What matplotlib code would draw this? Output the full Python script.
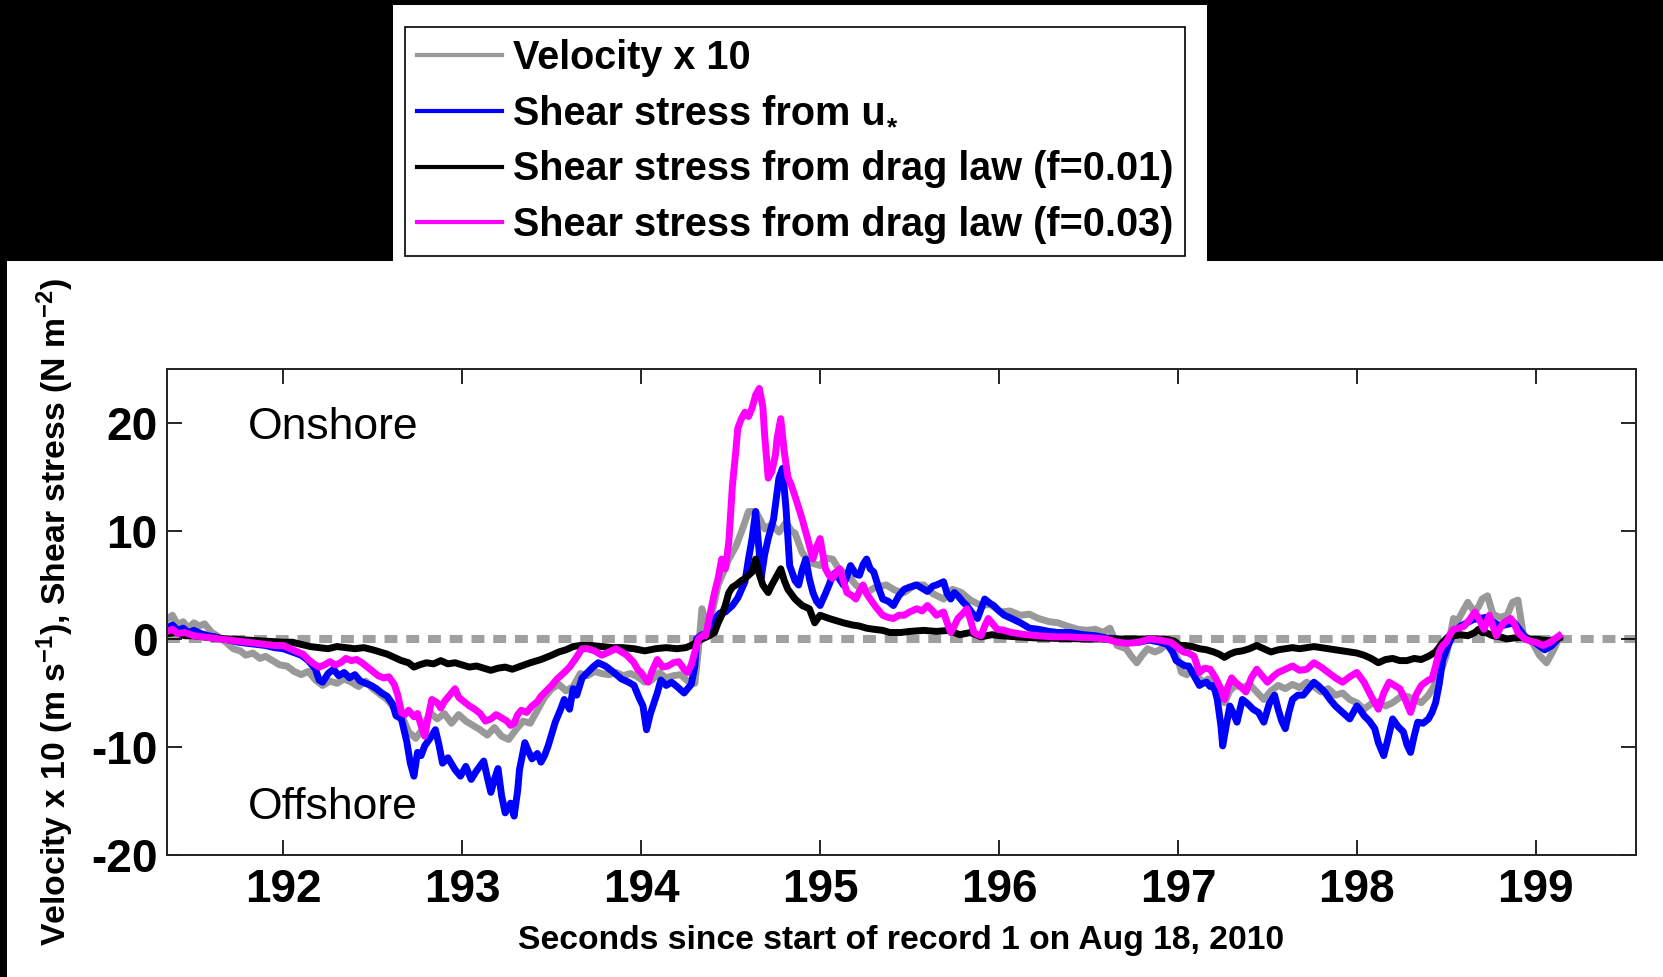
import matplotlib
matplotlib.use("Agg")
import matplotlib.pyplot as plt
from matplotlib.patches import Rectangle
from matplotlib.text import Annotation

plt.rcParams['font.family'] = ['Liberation Sans', 'DejaVu Sans']
plt.rcParams['mathtext.default'] = 'regular'
plt.rcParams['axes.unicode_minus'] = False

# ---- data -----------------------------------------------------------------
vel_t = [191.35, 191.38, 191.41, 191.44, 191.47, 191.50, 191.53, 191.56, 191.60, 191.64,
         191.68, 191.72, 191.76, 191.79, 191.83, 191.87, 191.90, 191.94, 191.98, 192.02,
         192.06, 192.10, 192.14, 192.18, 192.22, 192.26, 192.30, 192.34, 192.38, 192.42,
         192.46, 192.50, 192.54, 192.58, 192.62, 192.66, 192.70, 192.74, 192.78, 192.82,
         192.86, 192.90, 192.94, 192.98, 193.02, 193.06, 193.10, 193.14, 193.18, 193.22,
         193.26, 193.30, 193.34, 193.38, 193.42, 193.46, 193.50, 193.54, 193.58, 193.62,
         193.66, 193.70, 193.74, 193.78, 193.82, 193.86, 193.90, 193.94, 193.98, 194.02,
         194.06, 194.10, 194.14, 194.18, 194.22, 194.26, 194.30, 194.32, 194.34, 194.36,
         194.38, 194.41, 194.43, 194.46, 194.49, 194.53, 194.56, 194.60, 194.64, 194.67,
         194.69, 194.73, 194.77, 194.81, 194.84, 194.86, 194.90, 194.94, 195.00, 195.03,
         195.07, 195.10, 195.13, 195.17, 195.20, 195.26, 195.31, 195.37, 195.42, 195.47,
         195.53, 195.58, 195.63, 195.69, 195.74, 195.79, 195.84, 195.90, 195.95, 196.01,
         196.06, 196.12, 196.17, 196.22, 196.28, 196.33, 196.38, 196.44, 196.49, 196.54,
         196.58, 196.62, 196.66, 196.71, 196.74, 196.77, 196.80, 196.83, 196.87, 196.90,
         196.94, 196.97, 197.00, 197.02, 197.05, 197.08, 197.11, 197.14, 197.17, 197.20,
         197.23, 197.26, 197.29, 197.32, 197.36, 197.40, 197.44, 197.48, 197.52, 197.56,
         197.60, 197.64, 197.68, 197.72, 197.76, 197.80, 197.84, 197.88, 197.92, 197.96,
         198.00, 198.04, 198.08, 198.12, 198.16, 198.20, 198.24, 198.28, 198.32, 198.36,
         198.40, 198.43, 198.46, 198.48, 198.50, 198.52, 198.54, 198.56, 198.58, 198.60,
         198.62, 198.64, 198.66, 198.68, 198.70, 198.73, 198.76, 198.80, 198.84, 198.87,
         198.90, 198.93, 198.96, 198.98, 199.02, 199.06, 199.10, 199.13]
vel_v = [1.8, 2.2, 1.3, 1.6, 1.0, 1.5, 1.2, 1.4, 0.6, 0.2,
         -0.3, -0.9, -1.1, -1.5, -1.3, -1.8, -1.6, -2.0, -2.4, -2.5,
         -3.0, -3.3, -3.0, -3.8, -4.3, -3.9, -4.1, -3.7, -4.0, -4.4,
         -3.9, -4.6, -5.1, -5.6, -6.4, -7.0, -8.6, -9.2, -8.3, -6.8,
         -7.4, -6.9, -7.8, -7.0, -7.6, -8.0, -8.4, -8.9, -8.2, -9.0,
         -9.3, -8.4, -7.6, -7.8, -6.6, -5.4, -4.6, -4.2, -4.8, -4.4,
         -3.2, -3.4, -3.0, -3.2, -3.3, -3.1, -3.4, -3.2, -3.5, -4.0,
         -3.8, -3.1, -3.6, -3.4, -3.3, -3.9, -4.1, -1.0, 2.8, 1.5,
         1.2, 3.5, 5.0, 6.2, 7.4, 8.6, 9.9, 11.8, 11.8, 10.9,
         10.2, 10.6, 9.9, 10.8, 10.0, 9.8, 8.0, 7.1, 6.8, 7.5,
         7.4, 6.6, 6.2, 5.6, 5.0, 4.3, 4.8, 5.0, 4.5, 4.3,
         5.0, 5.0, 4.2, 3.7, 4.6, 4.3, 3.6, 3.1, 3.2, 2.5,
         2.6, 2.2, 2.3, 1.9, 1.6, 1.5, 1.2, 0.9, 0.8, 0.9,
         0.6, 1.0, -0.6, -0.9, -1.6, -2.2, -1.5, -0.9, -1.2, -1.0,
         -0.4, -0.8, -1.9, -3.1, -3.3, -2.9, -3.5, -4.0, -3.7, -4.6,
         -5.2, -5.9, -4.8, -4.3, -4.5, -4.2, -4.9, -5.6, -4.8, -4.3,
         -4.6, -4.2, -4.5, -4.0, -4.4, -4.9, -4.6, -5.2, -5.0, -5.6,
         -5.9, -6.5, -6.0, -5.8, -6.2, -5.9, -5.4, -5.3, -5.6, -5.9,
         -5.2, -4.4, -3.1, -2.5, -1.5, 0.2, 1.9, 1.6, 2.2, 2.8,
         3.4, 2.9, 2.5, 3.0, 3.7, 4.0, 2.3, 2.0, 2.2, 3.4,
         3.6, 0.4, 0.0, -0.3, -1.5, -2.2, -1.0, 0.1]

ustar_t = [191.35, 191.38, 191.41, 191.44, 191.47, 191.50, 191.54, 191.58, 191.62, 191.66,
           191.70, 191.75, 191.80, 191.85, 191.90, 191.95, 192.00, 192.05, 192.10, 192.14,
           192.18, 192.20, 192.22, 192.25, 192.28, 192.31, 192.34, 192.37, 192.40, 192.43,
           192.46, 192.49, 192.52, 192.55, 192.58, 192.61, 192.63, 192.66, 192.69, 192.71,
           192.73, 192.75, 192.77, 192.79, 192.82, 192.85, 192.87, 192.89, 192.92, 192.96,
           192.99, 193.02, 193.05, 193.08, 193.12, 193.14, 193.16, 193.18, 193.20, 193.22,
           193.24, 193.27, 193.29, 193.31, 193.32, 193.35, 193.37, 193.39, 193.42, 193.44,
           193.46, 193.48, 193.50, 193.52, 193.55, 193.57, 193.60, 193.62, 193.64, 193.67,
           193.70, 193.73, 193.76, 193.80, 193.84, 193.89, 193.93, 193.96, 193.99, 194.01,
           194.03, 194.05, 194.07, 194.09, 194.11, 194.14, 194.17, 194.20, 194.24, 194.28,
           194.30, 194.31, 194.34, 194.36, 194.39, 194.41, 194.44, 194.47, 194.51, 194.54,
           194.58, 194.60, 194.62, 194.64, 194.66, 194.67, 194.69, 194.71, 194.74, 194.77,
           194.79, 194.81, 194.83, 194.86, 194.88, 194.90, 194.92, 194.94, 194.96, 194.98,
           195.00, 195.03, 195.05, 195.07, 195.09, 195.11, 195.13, 195.15, 195.17, 195.20,
           195.22, 195.24, 195.26, 195.28, 195.30, 195.33, 195.35, 195.38, 195.41, 195.44,
           195.47, 195.50, 195.54, 195.57, 195.60, 195.63, 195.65, 195.69, 195.71, 195.73,
           195.75, 195.77, 195.80, 195.82, 195.85, 195.88, 195.90, 195.92, 195.95, 195.97,
           196.00, 196.03, 196.07, 196.12, 196.17, 196.22, 196.28, 196.33, 196.40, 196.47,
           196.54, 196.60, 196.66, 196.72, 196.78, 196.84, 196.90, 196.94, 196.97, 196.99,
           197.01, 197.04, 197.06, 197.09, 197.12, 197.14, 197.16, 197.18, 197.20, 197.22,
           197.24, 197.25, 197.27, 197.29, 197.31, 197.33, 197.36, 197.39, 197.42, 197.45,
           197.48, 197.51, 197.54, 197.56, 197.58, 197.60, 197.62, 197.64, 197.67, 197.70,
           197.73, 197.76, 197.79, 197.82, 197.85, 197.88, 197.92, 197.96, 198.00, 198.02,
           198.04, 198.07, 198.10, 198.12, 198.15, 198.17, 198.20, 198.23, 198.26, 198.28,
           198.30, 198.32, 198.34, 198.37, 198.40, 198.42, 198.44, 198.46, 198.48, 198.51,
           198.54, 198.58, 198.65, 198.72, 198.80, 198.88, 198.94, 199.00, 199.05, 199.09,
           199.13]
ustar_v = [1.0, 1.3, 0.8, 1.0, 0.6, 0.8, 0.5, 0.3, 0.2, 0.0,
           -0.1, -0.3, -0.4, -0.5, -0.6, -0.8, -0.9, -1.2, -1.5, -2.0,
           -2.8, -3.8, -4.0, -3.2, -2.8, -3.4, -3.1, -3.6, -3.3, -3.9,
           -4.1, -4.3, -4.6, -5.0, -5.3, -6.0, -7.1, -7.4, -9.5, -11.5,
           -12.7, -10.5, -10.8, -9.9, -9.2, -8.4, -9.8, -11.5, -11.0, -12.1,
           -12.7, -11.8, -13.0, -12.2, -11.3, -12.8, -14.2, -13.0, -12.0, -14.5,
           -16.1, -15.2, -16.4, -14.0, -12.1, -9.6, -10.4, -11.1, -10.6, -11.4,
           -10.8, -9.9, -8.8, -7.7, -6.5, -5.6, -6.5, -4.6, -5.2, -3.6,
           -3.1, -2.6, -2.2, -2.5, -3.0, -3.7, -4.0, -4.3, -5.5, -6.2,
           -8.4, -7.0, -6.0, -5.0, -3.8, -4.3, -4.0, -4.4, -5.0, -4.2,
           -2.5, 0.0, 0.4, 0.3, 1.0, 1.8, 2.4, 2.5, 3.1, 3.8,
           5.3, 7.4, 9.3, 11.8, 8.0, 5.6, 7.8, 9.3, 11.1, 14.9,
           15.8, 12.0, 6.8, 5.4, 5.0, 6.4, 7.4, 5.6, 4.3, 3.5,
           3.1, 4.2, 5.0, 5.9, 6.2, 5.5, 5.0, 5.8, 6.8, 6.0,
           5.9, 6.9, 7.4, 6.5, 6.2, 4.6, 3.7, 3.5, 3.1, 4.0,
           4.6, 4.8, 5.0, 4.7, 4.4, 4.9, 5.0, 5.3, 4.2, 3.7,
           4.3, 4.0, 3.4, 3.1, 2.4, 1.9, 2.8, 3.7, 3.3, 3.1,
           2.6, 2.2, 1.9, 1.5, 1.0, 0.9, 0.7, 0.6, 0.6, 0.4,
           0.3, 0.1, 0.0, -0.2, -0.3, -0.1, -0.3, -0.5, -1.2, -2.0,
           -2.2, -2.5, -2.5, -3.4, -4.3, -4.1, -4.0, -4.4, -4.3, -5.6,
           -8.0, -9.9, -8.0, -6.2, -6.9, -7.7, -5.6, -6.0, -6.5, -6.8,
           -7.7, -6.0, -5.2, -6.5, -7.6, -8.3, -6.8, -5.6, -5.2, -5.2,
           -4.6, -4.0, -4.4, -4.9, -5.6, -6.2, -6.8, -7.4, -6.2, -6.6,
           -7.1, -7.6, -8.3, -9.6, -10.8, -9.5, -7.4, -8.1, -8.6, -9.8,
           -10.5, -9.0, -7.7, -7.8, -7.4, -6.8, -5.9, -4.2, -1.9, -0.6,
           0.5, 1.2, 1.8, 2.0, 1.2, 1.5, 0.2, -0.4, -1.0, -0.6,
           0.1]

f001_t = [191.35, 191.40, 191.45, 191.50, 191.55, 191.60, 191.70, 191.80, 191.90, 192.00,
          192.05, 192.10, 192.15, 192.20, 192.25, 192.30, 192.35, 192.40, 192.45, 192.50,
          192.54, 192.58, 192.62, 192.66, 192.70, 192.73, 192.76, 192.80, 192.84, 192.88,
          192.92, 192.96, 193.00, 193.04, 193.08, 193.12, 193.16, 193.20, 193.24, 193.28,
          193.33, 193.38, 193.44, 193.50, 193.54, 193.58, 193.62, 193.66, 193.72, 193.78,
          193.84, 193.90, 193.96, 194.02, 194.08, 194.14, 194.20, 194.25, 194.28, 194.31,
          194.34, 194.38, 194.41, 194.43, 194.45, 194.47, 194.49, 194.51, 194.53, 194.56,
          194.58, 194.60, 194.62, 194.64, 194.66, 194.68, 194.71, 194.73, 194.75, 194.78,
          194.80, 194.82, 194.86, 194.90, 194.94, 194.97, 195.00, 195.05, 195.09, 195.13,
          195.18, 195.22, 195.26, 195.30, 195.35, 195.39, 195.45, 195.50, 195.58, 195.65,
          195.72, 195.78, 195.84, 195.90, 195.96, 196.01, 196.10, 196.20, 196.35, 196.50,
          196.65, 196.80, 196.93, 196.98, 197.01, 197.04, 197.08, 197.12, 197.16, 197.20,
          197.23, 197.26, 197.29, 197.32, 197.36, 197.40, 197.44, 197.48, 197.52, 197.56,
          197.60, 197.64, 197.68, 197.72, 197.76, 197.80, 197.84, 197.88, 197.92, 197.96,
          198.00, 198.04, 198.08, 198.12, 198.16, 198.20, 198.24, 198.28, 198.32, 198.36,
          198.40, 198.44, 198.48, 198.51, 198.54, 198.58, 198.62, 198.66, 198.68, 198.70,
          198.72, 198.76, 198.80, 198.84, 198.88, 198.92, 198.96, 199.00, 199.04, 199.08,
          199.13]
f001_v = [0.5, 0.6, 0.3, 0.3, 0.2, 0.1, 0.0, -0.1, -0.2, -0.3,
          -0.3, -0.5, -0.7, -0.8, -0.9, -0.7, -0.8, -0.9, -0.8, -1.0,
          -1.2, -1.4, -1.7, -2.0, -2.2, -2.6, -2.4, -2.2, -2.3, -2.0,
          -2.3, -2.2, -2.4, -2.6, -2.5, -2.7, -2.9, -2.7, -2.6, -2.8,
          -2.5, -2.2, -1.9, -1.5, -1.2, -1.0, -0.7, -0.6, -0.6, -0.7,
          -0.8, -0.8, -0.9, -1.1, -0.9, -0.8, -0.9, -0.8, -0.6, -0.3,
          0.0, 0.3, 0.6, 1.5, 2.2, 3.1, 4.3, 4.8, 5.0, 5.4,
          5.6, 5.9, 6.2, 7.4, 6.0, 5.0, 4.3, 5.0, 5.6, 6.5,
          5.4, 4.6, 3.7, 3.1, 2.8, 1.5, 2.2, 1.9, 1.7, 1.5,
          1.3, 1.2, 1.0, 0.9, 0.8, 0.6, 0.6, 0.7, 0.8, 0.7,
          0.8, 0.4, 0.6, 0.2, 0.4, 0.3, 0.2, 0.1, 0.05, 0.0,
          0.0, 0.0, 0.0, -0.2, -0.6, -0.6, -0.7, -0.9, -1.0, -1.2,
          -1.4, -1.7, -1.4, -1.2, -1.1, -0.9, -0.6, -0.9, -1.2, -1.0,
          -0.9, -0.8, -0.9, -0.8, -0.7, -0.8, -0.9, -1.0, -1.1, -1.2,
          -1.3, -1.5, -1.8, -2.2, -1.9, -1.8, -2.0, -2.0, -1.8, -1.9,
          -1.6, -1.2, -0.3, 0.2, 0.3, 0.4, 0.3, 0.6, 0.9, 0.6,
          0.6, 0.3, 0.2, 0.0, 0.1, 0.15, 0.0, 0.0, -0.1, -0.15,
          0.1]

f003_t = [191.35, 191.38, 191.41, 191.45, 191.50, 191.55, 191.60, 191.65, 191.70, 191.75,
          191.80, 191.85, 191.90, 191.95, 192.00, 192.04, 192.08, 192.11, 192.14, 192.17,
          192.20, 192.23, 192.26, 192.29, 192.32, 192.35, 192.38, 192.41, 192.44, 192.47,
          192.50, 192.53, 192.56, 192.59, 192.62, 192.64, 192.66, 192.68, 192.70, 192.73,
          192.75, 192.77, 192.79, 192.81, 192.83, 192.86, 192.88, 192.90, 192.93, 192.96,
          192.98, 193.01, 193.04, 193.07, 193.10, 193.13, 193.16, 193.19, 193.22, 193.25,
          193.27, 193.29, 193.31, 193.33, 193.36, 193.39, 193.42, 193.44, 193.47, 193.50,
          193.53, 193.57, 193.60, 193.63, 193.65, 193.67, 193.70, 193.74, 193.78, 193.82,
          193.86, 193.89, 193.92, 193.96, 193.98, 194.00, 194.02, 194.04, 194.06, 194.09,
          194.12, 194.15, 194.18, 194.21, 194.24, 194.26, 194.28, 194.30, 194.32, 194.34,
          194.36, 194.38, 194.41, 194.43, 194.45, 194.47, 194.49, 194.51, 194.53, 194.54,
          194.56, 194.58, 194.60, 194.62, 194.64, 194.66, 194.68, 194.69, 194.71, 194.73,
          194.75, 194.76, 194.78, 194.80, 194.82, 194.84, 194.87, 194.90, 194.93, 194.96,
          194.98, 195.00, 195.03, 195.05, 195.07, 195.09, 195.11, 195.13, 195.15, 195.18,
          195.20, 195.22, 195.24, 195.26, 195.28, 195.31, 195.35, 195.38, 195.41, 195.44,
          195.47, 195.50, 195.54, 195.57, 195.60, 195.63, 195.65, 195.69, 195.71, 195.73,
          195.75, 195.77, 195.80, 195.82, 195.84, 195.86, 195.88, 195.90, 195.92, 195.94,
          195.97, 195.99, 196.03, 196.07, 196.15, 196.22, 196.30, 196.38, 196.44, 196.52,
          196.60, 196.66, 196.72, 196.78, 196.84, 196.90, 196.96, 197.00, 197.03, 197.06,
          197.09, 197.12, 197.15, 197.18, 197.21, 197.24, 197.26, 197.28, 197.30, 197.32,
          197.35, 197.38, 197.41, 197.44, 197.47, 197.50, 197.53, 197.56, 197.60, 197.64,
          197.68, 197.72, 197.76, 197.80, 197.84, 197.88, 197.92, 197.96, 198.00, 198.04,
          198.08, 198.10, 198.12, 198.15, 198.18, 198.21, 198.24, 198.27, 198.30, 198.33,
          198.36, 198.40, 198.42, 198.44, 198.46, 198.48, 198.50, 198.52, 198.54, 198.57,
          198.60, 198.63, 198.66, 198.69, 198.71, 198.74, 198.76, 198.78, 198.80, 198.82,
          198.86, 198.88, 198.90, 198.94, 198.97, 199.00, 199.04, 199.08, 199.13]
f003_v = [0.7, 0.9, 0.5, 0.6, 0.3, 0.2, 0.1, 0.0, -0.1, -0.2,
          -0.3, -0.4, -0.5, -0.6, -0.6, -0.9, -1.2, -1.4, -1.9, -2.3,
          -2.6, -2.4, -2.1, -2.4, -2.2, -1.8, -2.0, -1.9, -2.2, -2.6,
          -3.0, -3.4, -3.6, -3.5, -4.2, -5.2, -6.8, -7.0, -6.6, -7.2,
          -6.9, -8.0, -9.0, -7.2, -5.6, -5.9, -6.4, -5.8, -5.2, -4.6,
          -5.4, -5.8, -6.2, -6.5, -6.9, -7.6, -7.4, -7.0, -7.3, -7.6,
          -8.0, -7.8, -7.0, -6.6, -6.8, -6.2, -5.8, -5.3, -4.8, -4.3,
          -3.7, -3.1, -2.6, -1.9, -1.4, -0.9, -0.9, -1.1, -1.5, -1.2,
          -0.9, -1.2, -1.5, -2.2, -2.8, -3.1, -3.6, -4.0, -3.0, -1.9,
          -2.6, -2.5, -2.2, -2.1, -2.8, -3.1, -2.4, -1.2, 0.0, 0.3,
          0.3, 1.9, 4.3, 5.6, 7.4, 6.5, 9.0, 14.2, 17.6, 19.5,
          20.4, 21.0, 20.6, 21.4, 22.6, 23.2, 21.5, 18.9, 14.9, 15.5,
          17.0, 18.6, 20.4, 17.3, 15.0, 14.2, 12.7, 11.1, 9.3, 7.4,
          8.5, 9.3, 6.5, 5.9, 5.6, 6.2, 6.5, 5.4, 4.3, 4.0,
          3.7, 4.4, 5.0, 4.2, 3.7, 3.0, 2.2, 2.0, 1.9, 2.2,
          2.2, 2.5, 2.8, 2.6, 3.1, 2.6, 2.2, 2.5, 1.5, 0.6,
          1.2, 1.9, 2.4, 2.8, 1.8, 0.6, 0.4, 0.3, 1.2, 1.9,
          1.3, 0.9, 0.8, 0.6, 0.4, 0.3, 0.2, 0.2, 0.15, 0.1,
          0.0, -0.3, -0.4, -0.3, 0.0, -0.1, -0.3, -0.8, -1.2, -1.3,
          -1.6, -3.1, -2.7, -2.8, -3.6, -4.6, -5.6, -4.4, -3.6, -4.0,
          -4.4, -4.9, -3.6, -2.8, -3.4, -4.0, -3.5, -3.1, -2.8, -2.5,
          -2.9, -2.8, -2.2, -2.6, -3.1, -3.6, -4.0, -3.5, -3.1, -4.0,
          -5.3, -5.9, -6.5, -5.0, -4.0, -4.3, -4.6, -5.6, -6.8, -5.2,
          -4.3, -3.8, -3.7, -2.5, -1.2, -0.6, -0.3, 0.4, 0.9, 1.0,
          1.2, 1.8, 2.5, 1.6, 0.9, 2.2, 1.2, 0.3, 1.0, 1.5,
          1.9, 1.4, 0.6, 0.0, -0.2, -0.3, -0.6, -0.3, 0.3]

series_labels = ["Velocity x 10",
                 "Shear stress from u",
                 "Shear stress from drag law (f=0.01)",
                 "Shear stress from drag law (f=0.03)"]
series_colors = ["#999999", "#0000ff", "#000000", "#ff00ff"]

x_ticks = [192, 193, 194, 195, 196, 197, 198, 199]
y_ticks = [-20, -10, 0, 10, 20]

# ---- figure ---------------------------------------------------------------
W, H = 1663, 977
fig = plt.figure(figsize=(W / 100, H / 100), dpi=100, facecolor="black")

# white panels on the black canvas
fig.patches.append(Rectangle((7 / W, 0), 1 - 7 / W, (H - 261) / H,
                             transform=fig.transFigure, facecolor="white",
                             edgecolor="none", zorder=-10))
fig.patches.append(Rectangle((393 / W, 1 - 261 / H), (1207 - 393) / W, (261 - 5) / H,
                             transform=fig.transFigure, facecolor="white",
                             edgecolor="none", zorder=-10))

ax = fig.add_axes([167 / W, 1 - 855 / H, (1636 - 167) / W, (855 - 369) / H])
ax.set_facecolor("white")

ax.axhline(0, color="#a0a0a0", lw=5.8, ls=(0, (1.6, 1.1)),
           dash_capstyle="butt", zorder=1)

lw = 5.0
lines = []
for tt, vv, col in zip([vel_t, ustar_t, f001_t, f003_t],
                       [vel_v, ustar_v, f001_v, f003_v], series_colors):
    ln, = ax.plot(tt, vv, color=col, lw=lw, solid_joinstyle="round", zorder=2)
    lines.append(ln)

ax.set_xlim(191.35, 199.56)
ax.set_ylim(-20, 25)
ax.set_xticks(x_ticks)
ax.set_yticks(y_ticks)
ax.tick_params(direction="in", length=10.8, width=1.2, top=True, right=True,
               labelsize=33, colors="black")
ax.tick_params(axis="x", pad=9)
ax.tick_params(axis="y", pad=7)
for lab in ax.get_xticklabels() + ax.get_yticklabels():
    lab.set_fontweight("bold")
for sp in ax.spines.values():
    sp.set_linewidth(1.4)
    sp.set_color("#222222")

ax.set_xlabel("Seconds since start of record 1 on Aug 18, 2010",
              fontsize=24.2, fontweight="bold", labelpad=10)
ax.set_ylabel("Velocity x 10 (m s$^{-1}$), Shear stress (N m$^{-2}$)",
              fontsize=24.3, fontweight="bold", va="center")
ax.yaxis.set_label_coords((55 - 167) / (1636 - 167), 0.5)

ax.text(191.8, 19.6, "Onshore", fontsize=32, va="center", ha="left")
ax.text(191.8, -15.6, "Offshore", fontsize=32, va="center", ha="left")

leg = fig.legend(lines, series_labels, loc="upper left",
                 bbox_to_anchor=(405 / W, 1 - 27 / H), bbox_transform=fig.transFigure,
                 borderaxespad=0, frameon=True, fancybox=False, framealpha=1,
                 edgecolor="black", prop={"weight": "bold", "size": 28.5},
                 handlelength=2.15, handletextpad=0.27, labelspacing=0.45,
                 borderpad=0.3)
leg.get_frame().set_linewidth(1.2)
for hl in leg.get_lines():
    hl.set_linewidth(3)

# subscript star after "u" in the second legend entry (drawn after the legend)
star = Annotation("*", xy=(1, 0), xycoords=leg.get_texts()[1], xytext=(1, 3),
                  textcoords="offset points", ha="left", va="center",
                  fontsize=19, fontweight="bold", color="black")
star.set_zorder(leg.get_zorder() + 1)
fig.add_artist(star)

fig.savefig("out.png", dpi=100, facecolor=fig.get_facecolor())
